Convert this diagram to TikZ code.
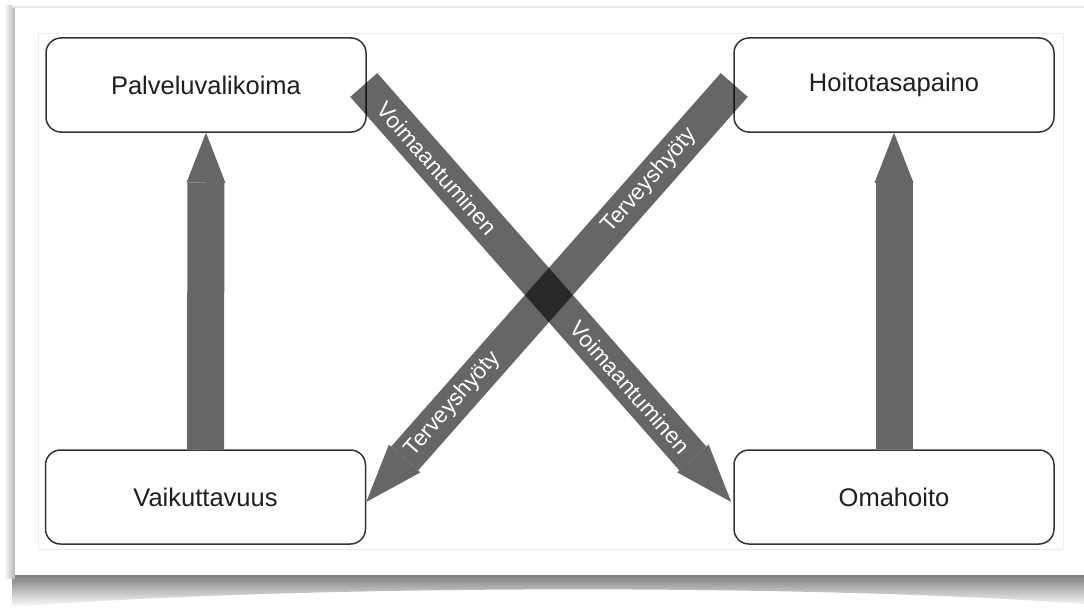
\documentclass[tikz,border=0pt]{standalone}
\usepackage{fontspec}
\setmainfont{Liberation Sans}
\usetikzlibrary{arrows.meta}
\begin{document}
\begin{tikzpicture}[x=1pt,y=-1pt,
  stage/.style={rectangle, draw=black!80, line width=1.5pt, rounded corners=15pt,
    fill=white, minimum width=320pt, minimum height=94pt, inner sep=0pt,
    font=\fontsize{25.5}{30}\selectfont, text=black!88},
  upflow/.style={draw=black!60, line width=37pt,
    -{Triangle[width=39pt,length=50pt,line width=0pt]}},
  crossflow/.style={draw=black, line width=36pt,
    -{Triangle[width=42pt,length=58pt,line width=0pt]}},
  bandlabel/.style={sloped, text=white, inner sep=0pt,
    font=\fontsize{22.5}{26}\selectfont}
]
\useasboundingbox (0,0) rectangle (1084,610);

% paper card with its shadows
\shade[top color=black!50, bottom color=white]
  (12,575) -- (1084,575) -- (1084,604)
  .. controls (820,584) and (300,584) .. (12,607) -- cycle;
\shade[left color=white, right color=black!30] (4,6) rectangle (15,578);
\shade[top color=white, bottom color=black!12] (12,4) rectangle (1084,8);
\fill[white] (15,8) rectangle (1084,575);
\draw[black!7, line width=0.8pt] (38,33) rectangle (1063,549);

% the four stages
\node[stage] (P) at (206,85)  {Palveluvalikoima};
\node[stage] (H) at (894,85)  {Hoitotasapaino};
\node[stage] (V) at (205.5,497) {Vaikuttavuus};
\node[stage] (O) at (894,497) {Omahoito};

% upward flows
\draw[upflow] (V.north) -- (P.south);
\draw[upflow] (O.north) -- (H.south);

% crossing flows, translucent so the crossing darkens
\begin{scope}[transparency group, opacity=0.6]
  \draw[crossflow] ([xshift=-3pt]P.east) -- ([xshift=-2pt,yshift=-5pt]O.west);
\end{scope}
\begin{scope}[transparency group, opacity=0.6]
  \draw[crossflow] ([xshift=1pt]H.west) -- ([xshift=0pt,yshift=-5pt]V.east);
\end{scope}

% labels along the crossing flows
\path ([xshift=-3pt]P.east) -- ([xshift=-2pt,yshift=-5pt]O.west)
  node[bandlabel, pos=0.2] {Voimaantuminen}
  node[bandlabel, pos=0.725] {Voimaantuminen};
\path ([xshift=1pt]H.west) -- ([xshift=0pt,yshift=-5pt]V.east)
  node[bandlabel, pos=0.23] {Terveyshyöty}
  node[bandlabel, pos=0.765] {Terveyshyöty};
\end{tikzpicture}
\end{document}
